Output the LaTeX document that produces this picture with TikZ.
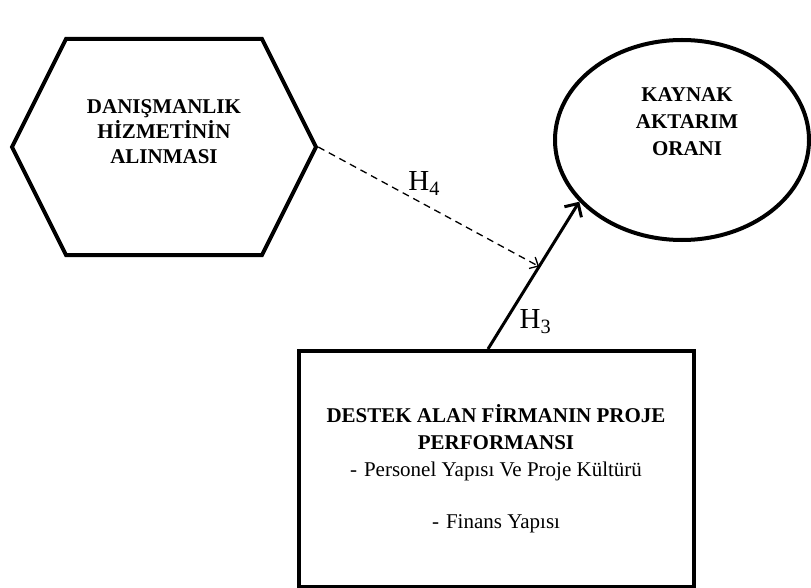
\documentclass[tikz,border=0pt]{standalone}
\usepackage{fontspec}
\setmainfont{Liberation Serif}
\usepackage{tikz}
\usetikzlibrary{arrows.meta,shapes.geometric,shapes.symbols}

\begin{document}
\begin{tikzpicture}[x=1pt,y=-1pt,>={Straight Barb[length=10pt,width=20pt]},
  font=\fontsize{21}{27}\selectfont,
  hexa/.style={draw,line width=4pt,signal,signal to=west and east,signal pointer angle=126.87,minimum width=304pt,minimum height=216pt,inner sep=0pt},
  oval/.style={draw,ellipse,line width=4pt,minimum width=254pt,minimum height=200pt},
  kutu/.style={draw,rectangle,line width=4pt,minimum width=395pt,minimum height=236pt,align=center},
  baslik/.style={align=center,font=\fontsize{21}{27}\selectfont\bfseries},
  hlabel/.style={font=\fontsize{29}{32}\selectfont,inner sep=2pt}]
  \useasboundingbox (0,0) rectangle (811,588);
  \node [hexa] (0) at (164,147) {};
  \node [oval] (1) at (682,140) {};
  \node [kutu] (2) at (496,469) {\textbf{DESTEK ALAN FİRMANIN PROJE}\\\textbf{PERFORMANSI}\\-\hspace{7pt}Personel Yapısı Ve Proje Kültürü\\[25pt]-\hspace{7pt}Finans Yapısı};
  \node [baslik,font=\fontsize{21}{25}\selectfont\bfseries] (3) at (164,132) {DANIŞMANLIK\\HİZMETİNİN\\ALINMASI};
  \node [baslik] (4) at (687,122) {KAYNAK\\AKTARIM\\ORANI};

  \draw[->,line width=3pt] ([xshift=-8pt]2.north) -- coordinate[pos=0.56] (5) node[pos=0.187,right=11pt,hlabel] {H\textsubscript{3}} (1.211);
  \draw[-{Straight Barb[length=7pt,width=13pt]},line width=1.3pt,dash pattern=on 7pt off 5pt] (0.east) -- node[pos=0.48,above=6pt,hlabel] {H\textsubscript{4}} (5);

\end{tikzpicture}
\end{document}
